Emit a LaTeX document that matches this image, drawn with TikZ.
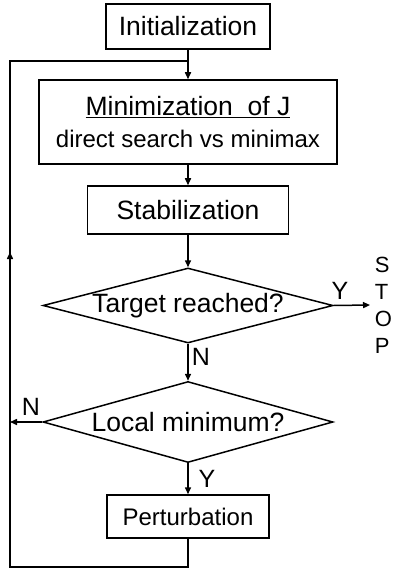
\documentclass[tikz,border=0pt]{standalone}
\usepackage{fontspec}
\setmainfont{Liberation Sans}
\usepackage{tikz}
\usetikzlibrary{arrows.meta}
\usetikzlibrary{shapes.geometric}

\begin{document}
\begin{tikzpicture} [x=1pt,y=-1pt,line width=1.5pt,
     font=\fontsize{26.5}{30}\selectfont,
     >={Triangle[length=7pt,width=6pt]},
     box/.style={rectangle, draw, fill=white, inner sep=0pt},
     dec/.style={diamond, draw, fill=white, inner sep=0pt},
     yn/.style={inner sep=0pt, font=\fontsize{25}{28}\selectfont}
   ]
\useasboundingbox (0,0) rectangle (392,569);

\node (init) [box, minimum width=164pt, minimum height=45pt] at (188,26.5) {Initialization};
\node (mini) [box, minimum width=298pt, minimum height=84pt, align=center] at (188,122)
  {\underline{Minimization\ \ of J}\\[2pt]
   {\fontsize{24}{28}\selectfont direct search vs minimax}};
\node (stab) [box, minimum width=201pt, minimum height=48pt] at (188,210) {Stabilization};
\node (q1) [dec, minimum width=290pt, minimum height=75pt,
            label={center:Target reached?}] at (188,305.5) {};
\node (q2) [dec, minimum width=290pt, minimum height=81pt,
            label={center:Local minimum?}] at (188,422) {};
\node (pert) [box, minimum width=162pt, minimum height=43pt,
              font=\fontsize{24}{28}\selectfont] at (188,516.5) {Perturbation};
\node (stop) [anchor=west, inner sep=0pt, align=left,
              font=\fontsize{22}{27}\selectfont] at (374,305) {S\\T\\O\\P};

% loop back
\coordinate (jn) at (188,61);
\coordinate (tl) at (10,61);
\coordinate (bl) at (10,567);
\coordinate (up) at (10,252);

\draw[->] (init) -- (mini);
\draw[->] (mini) -- (stab);
\draw[->] (stab) -- (q1);
\draw[->] (q1) -- (q2);
\draw[->] (q2) -- (pert);
\draw[->] (q1.east) -- ([xshift=-4pt]stop.west);
\draw[->] (q2.west) -- (q2.west -| tl);
\draw (pert.south) |- (bl) -- (tl) -- (jn);
\draw[->] (bl) -- (up);

\node (y1) [yn] at (340,291) {Y};
\node (n1) [yn] at (201,357) {N};
\node (n2) [yn] at (31,407) {N};
\node (y2) [yn] at (207,479) {Y};
\end{tikzpicture}
\end{document}
